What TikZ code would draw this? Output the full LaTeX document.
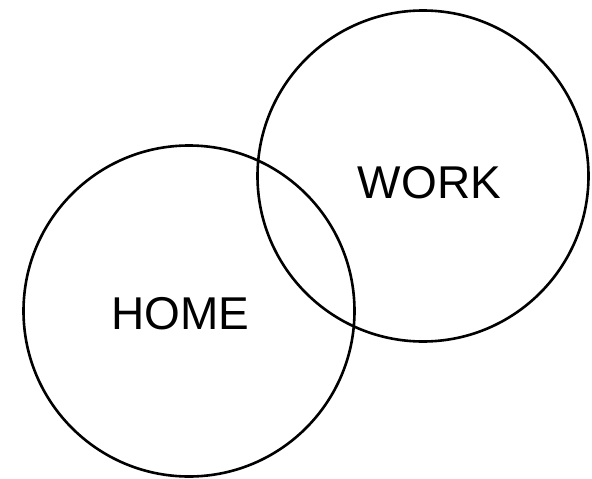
\documentclass[tikz,border=0pt]{standalone}
\usepackage{fontspec}
\setmainfont{Liberation Sans}
\begin{document}
\begin{tikzpicture}[x=1pt,y=-1pt,
  ring/.style={draw=black,line width=2.6pt,circle,minimum size=#1,inner sep=0pt},
  lbl/.style={inner sep=0pt,font=\fontsize{46}{46}\selectfont}]
\useasboundingbox (0,0) rectangle (592,479);
\node[ring=331pt] (home) at (189,311) {};
\node[ring=331pt] (work) at (423,176) {};
\node[lbl] (homet) at (180.5,314) {HOME};
\node[lbl] (workt) at (429.5,183) {WORK};
\end{tikzpicture}
\end{document}
